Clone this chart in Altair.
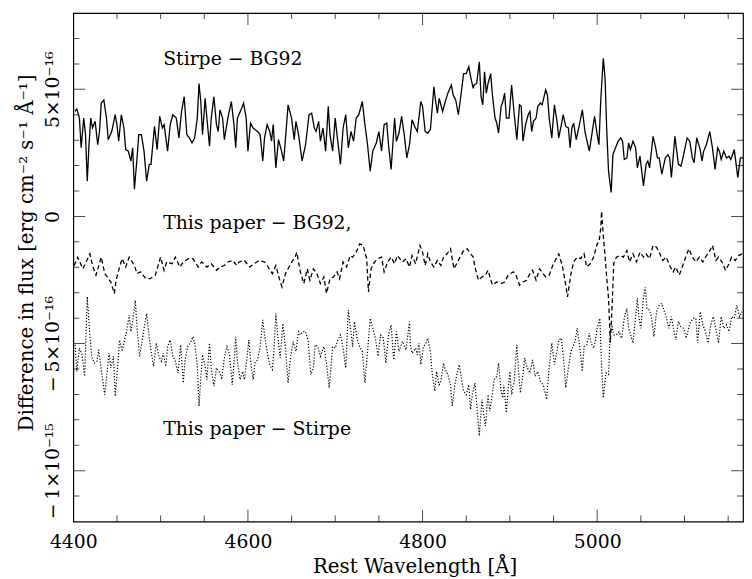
import altair as alt
import pandas as pd

# Wavelength [Å], flux difference in units of 1e-16 erg cm^-2 s^-1 Å^-1
stirpe_bg92 = [
    (4402, 4.13), (4404, 4.23), (4407, 3.87), (4409, 2.70), (4412, 3.87), (4414, 3.22), (4416, 1.39), (4418, 2.82),
    (4420, 3.87), (4422, 3.48), (4425, 3.74), (4428, 2.82), (4430, 3.34), (4432, 4.46), (4435, 4.58), (4438, 3.87),
    (4440, 3.02), (4444, 3.34), (4448, 4.00), (4450, 3.61), (4452, 2.96), (4455, 4.00), (4458, 3.48), (4460, 2.63),
    (4463, 2.57), (4466, 2.18), (4468, 2.70), (4470, 1.07), (4473, 2.30), (4475, 3.22), (4478, 3.22), (4481, 2.57),
    (4484, 1.39), (4487, 2.05), (4489, 2.05), (4493, 3.54), (4496, 2.63), (4499, 3.94), (4502, 3.48), (4504, 3.61),
    (4508, 2.57), (4511, 3.61), (4514, 4.00), (4518, 3.87), (4521, 3.09), (4524, 4.13), (4527, 4.71), (4530, 3.22),
    (4533, 3.09), (4536, 2.89), (4539, 3.09), (4542, 3.87), (4544, 5.23), (4546, 4.52), (4548, 3.22), (4551, 4.65),
    (4553, 3.87), (4556, 2.76), (4558, 3.87), (4561, 4.71), (4564, 3.61), (4566, 3.34), (4568, 4.19), (4571, 3.87),
    (4573, 3.02), (4577, 3.87), (4581, 4.52), (4584, 3.61), (4586, 2.70), (4588, 3.87), (4592, 4.19), (4595, 4.46),
    (4598, 3.87), (4600, 2.57), (4603, 3.67), (4606, 3.48), (4608, 3.42), (4611, 3.34), (4614, 3.22), (4617, 2.18),
    (4619, 3.09), (4622, 3.61), (4625, 3.34), (4627, 2.96), (4629, 3.61), (4632, 1.91), (4635, 3.02), (4638, 2.64),
    (4641, 2.18), (4646, 4.39), (4650, 3.87), (4653, 3.02), (4655, 3.74), (4658, 3.22), (4662, 2.18), (4666, 2.82),
    (4670, 4.00), (4673, 4.06), (4676, 3.48), (4678, 3.34), (4681, 3.74), (4683, 2.96), (4686, 3.48), (4689, 2.57),
    (4692, 4.33), (4694, 3.22), (4697, 2.57), (4700, 3.87), (4702, 3.22), (4706, 2.05), (4709, 3.48), (4712, 4.00),
    (4715, 2.70), (4718, 3.34), (4721, 2.96), (4724, 3.87), (4727, 4.00), (4731, 4.52), (4734, 3.61), (4737, 2.82),
    (4740, 1.78), (4743, 2.57), (4747, 2.89), (4750, 3.34), (4753, 2.57), (4756, 3.61), (4759, 3.67), (4761, 2.82),
    (4764, 1.85), (4768, 3.87), (4770, 2.96), (4773, 3.28), (4776, 3.94), (4779, 3.22), (4782, 2.30), (4785, 2.82),
    (4788, 3.80), (4791, 3.54), (4794, 3.34), (4798, 4.52), (4800, 4.33), (4803, 3.34), (4806, 3.28), (4809, 3.42),
    (4813, 5.10), (4815, 4.52), (4817, 4.06), (4819, 4.65), (4823, 4.13), (4826, 4.52), (4829, 4.85), (4833, 5.17),
    (4835, 4.78), (4838, 4.58), (4841, 4.00), (4844, 4.78), (4847, 5.62), (4850, 5.62), (4853, 5.89), (4855, 5.50),
    (4858, 5.04), (4859, 5.17), (4862, 5.23), (4865, 6.08), (4867, 4.71), (4869, 4.39), (4871, 5.69), (4873, 4.85),
    (4875, 5.23), (4878, 5.62), (4880, 4.78), (4883, 3.87), (4885, 3.67), (4887, 3.28), (4890, 4.33), (4892, 4.52),
    (4894, 4.85), (4896, 3.87), (4899, 3.87), (4902, 5.17), (4905, 4.00), (4908, 3.02), (4911, 4.39), (4913, 4.33),
    (4915, 2.96), (4918, 3.61), (4921, 4.00), (4923, 4.13), (4925, 3.34), (4927, 3.74), (4930, 3.87), (4932, 4.33),
    (4935, 4.46), (4937, 4.39), (4941, 4.98), (4943, 4.78), (4945, 3.87), (4948, 3.09), (4951, 4.39), (4954, 3.74),
    (4956, 3.09), (4959, 3.61), (4961, 4.00), (4964, 3.54), (4967, 3.48), (4969, 2.70), (4971, 3.48), (4973, 3.67),
    (4976, 3.02), (4980, 3.67), (4983, 4.19), (4986, 3.34), (4988, 3.02), (4991, 2.57), (4995, 3.48), (4997, 3.94),
    (5000, 3.22), (5002, 2.82), (5004, 4.52), (5007, 6.22), (5009, 5.43), (5011, 3.34), (5013, 1.78), (5016, 0.94),
    (5018, 2.43), (5021, 2.70), (5024, 2.96), (5027, 3.09), (5029, 2.96), (5031, 2.24), (5034, 2.30), (5036, 2.89),
    (5038, 2.63), (5041, 2.96), (5044, 2.70), (5046, 1.91), (5049, 2.37), (5053, 1.20), (5056, 2.05), (5058, 2.18),
    (5060, 1.91), (5064, 3.15), (5067, 2.70), (5069, 2.30), (5071, 2.30), (5074, 1.66), (5078, 2.30), (5081, 2.43),
    (5083, 2.30), (5085, 1.53), (5089, 3.15), (5093, 2.05), (5096, 1.98), (5099, 2.43), (5103, 3.09), (5106, 2.96),
    (5109, 2.30), (5111, 2.11), (5114, 3.09), (5118, 2.63), (5120, 2.18), (5122, 2.57), (5125, 2.82), (5129, 3.34),
    (5132, 2.70), (5135, 1.85), (5138, 2.70), (5140, 2.57), (5142, 2.24), (5145, 2.57), (5148, 2.30), (5151, 2.37),
    (5153, 2.24), (5155, 2.43), (5157, 2.63), (5161, 1.53), (5164, 2.30), (5167, 2.30),
]

thispaper_bg92 = [
    (4401, -1.93), (4405, -1.60), (4411, -2.06), (4419, -1.47), (4422, -1.93), (4426, -2.31), (4432, -1.60), (4436, -2.25),
    (4439, -2.38), (4443, -2.58), (4447, -3.03), (4449, -2.51), (4453, -1.99), (4456, -1.66), (4460, -1.99), (4464, -1.60),
    (4470, -1.93), (4473, -2.25), (4477, -2.18), (4483, -2.45), (4488, -2.45), (4494, -2.31), (4500, -1.60), (4504, -2.12),
    (4507, -1.79), (4513, -1.86), (4517, -1.60), (4522, -1.99), (4526, -1.79), (4532, -1.66), (4537, -1.66), (4543, -1.99),
    (4547, -1.79), (4553, -1.99), (4558, -1.86), (4564, -2.12), (4568, -1.99), (4573, -1.93), (4577, -1.79), (4583, -1.73),
    (4587, -1.93), (4590, -1.79), (4596, -1.73), (4602, -1.99), (4607, -1.86), (4613, -1.73), (4619, -1.79), (4622, -1.93),
    (4628, -2.25), (4632, -1.93), (4636, -2.45), (4639, -2.77), (4643, -2.25), (4649, -1.86), (4654, -1.60), (4656, -1.41),
    (4660, -2.18), (4664, -2.64), (4668, -2.06), (4671, -2.51), (4675, -2.06), (4679, -2.25), (4683, -2.64), (4687, -2.38),
    (4690, -3.03), (4694, -2.45), (4698, -2.38), (4702, -2.18), (4705, -2.45), (4709, -1.79), (4713, -1.99), (4717, -1.54),
    (4720, -1.60), (4724, -1.41), (4728, -1.08), (4732, -1.14), (4736, -1.66), (4738, -2.97), (4741, -2.06), (4745, -1.79),
    (4749, -1.66), (4753, -1.60), (4756, -2.18), (4760, -1.79), (4764, -1.60), (4768, -1.86), (4771, -1.54), (4777, -1.79),
    (4781, -1.66), (4785, -1.99), (4788, -1.54), (4792, -1.86), (4797, -1.14), (4800, -1.41), (4803, -1.93), (4806, -1.47),
    (4809, -1.79), (4813, -1.99), (4817, -1.73), (4821, -1.93), (4824, -1.60), (4828, -1.47), (4832, -1.27), (4836, -2.06),
    (4839, -1.86), (4843, -1.60), (4847, -1.34), (4851, -1.27), (4855, -1.47), (4858, -1.60), (4860, -1.99), (4864, -2.51),
    (4868, -2.38), (4872, -2.31), (4875, -2.12), (4880, -2.70), (4885, -2.58), (4890, -2.64), (4894, -2.58), (4898, -2.31),
    (4904, -2.18), (4907, -2.31), (4911, -2.70), (4915, -2.58), (4919, -2.51), (4922, -2.31), (4926, -2.12), (4930, -2.51),
    (4934, -2.06), (4938, -2.25), (4941, -2.38), (4945, -2.31), (4949, -1.93), (4953, -1.66), (4956, -1.47), (4960, -1.93),
    (4962, -2.31), (4964, -2.70), (4966, -3.16), (4968, -2.70), (4970, -2.25), (4973, -1.79), (4977, -1.60), (4981, -1.66),
    (4985, -1.47), (4988, -1.99), (4992, -1.86), (4996, -1.60), (5000, -1.08), (5002, -1.02), (5004, -0.50), (5005, 0.20),
    (5007, -0.75), (5009, -1.54), (5011, -2.45), (5013, -3.22), (5015, -4.97), (5017, -3.60), (5019, -1.84), (5022, -1.60),
    (5026, -1.54), (5030, -1.60), (5034, -1.34), (5037, -1.79), (5041, -1.47), (5045, -1.79), (5049, -1.41), (5053, -1.60),
    (5056, -1.47), (5060, -1.66), (5064, -1.14), (5068, -1.21), (5071, -1.41), (5075, -1.73), (5079, -1.60), (5083, -1.93),
    (5087, -2.18), (5090, -1.99), (5094, -2.31), (5098, -1.93), (5102, -1.54), (5105, -1.27), (5109, -1.60), (5113, -1.79),
    (5117, -1.60), (5121, -1.79), (5124, -1.60), (5128, -1.41), (5132, -1.14), (5136, -1.73), (5139, -1.60), (5143, -1.79),
    (5147, -2.12), (5151, -1.86), (5154, -1.60), (5158, -1.73), (5162, -1.54), (5166, -1.47),
]

thispaper_stirpe = [
    (4402, -5.05), (4404, -6.10), (4407, -5.18), (4410, -5.44), (4413, -6.29), (4416, -3.16), (4419, -4.66), (4421, -5.50),
    (4424, -5.77), (4427, -5.70), (4429, -5.25), (4432, -6.02), (4436, -7.01), (4438, -6.35), (4441, -5.38), (4443, -5.96),
    (4446, -5.50), (4448, -7.07), (4451, -5.83), (4453, -4.86), (4456, -5.31), (4458, -4.98), (4461, -4.53), (4464, -3.88),
    (4466, -4.53), (4468, -4.14), (4471, -3.30), (4473, -4.40), (4476, -5.50), (4479, -4.86), (4482, -4.21), (4484, -3.82),
    (4487, -4.79), (4490, -5.50), (4492, -5.90), (4495, -4.98), (4498, -5.50), (4501, -5.70), (4503, -5.38), (4506, -5.90),
    (4508, -5.12), (4511, -4.86), (4514, -5.50), (4517, -5.70), (4520, -6.16), (4523, -5.05), (4526, -6.55), (4528, -5.64),
    (4531, -5.12), (4534, -4.98), (4537, -4.73), (4539, -4.98), (4542, -5.83), (4544, -7.46), (4546, -6.35), (4548, -5.44),
    (4551, -5.90), (4553, -6.42), (4556, -4.98), (4558, -5.96), (4561, -6.68), (4564, -5.96), (4567, -6.10), (4570, -6.35),
    (4573, -5.57), (4576, -5.12), (4579, -5.44), (4582, -6.62), (4585, -5.31), (4586, -4.73), (4588, -5.70), (4591, -6.42),
    (4594, -6.10), (4596, -6.42), (4599, -5.57), (4601, -4.86), (4604, -5.96), (4606, -6.42), (4608, -5.77), (4611, -5.64),
    (4614, -5.12), (4617, -4.07), (4619, -4.66), (4622, -5.31), (4625, -5.83), (4628, -6.02), (4630, -5.18), (4632, -3.82),
    (4634, -4.66), (4637, -5.57), (4640, -4.21), (4643, -5.18), (4646, -6.55), (4649, -5.50), (4652, -4.92), (4655, -5.31),
    (4658, -4.53), (4660, -4.66), (4663, -4.53), (4666, -4.53), (4669, -4.92), (4672, -6.22), (4675, -5.96), (4677, -5.05),
    (4680, -5.12), (4683, -5.50), (4687, -5.12), (4690, -5.77), (4693, -6.74), (4695, -5.96), (4697, -5.12), (4700, -5.18),
    (4703, -4.86), (4706, -4.66), (4709, -5.18), (4712, -5.96), (4715, -3.69), (4717, -4.27), (4720, -5.12), (4722, -4.14),
    (4725, -4.79), (4728, -5.12), (4731, -5.31), (4734, -6.55), (4737, -5.31), (4740, -4.01), (4743, -4.40), (4746, -4.79),
    (4749, -5.50), (4752, -4.66), (4755, -4.79), (4758, -5.77), (4761, -4.66), (4764, -4.27), (4767, -5.64), (4770, -4.53),
    (4773, -5.31), (4777, -4.92), (4781, -5.25), (4785, -4.14), (4786, -5.05), (4788, -5.38), (4792, -5.18), (4794, -5.44),
    (4796, -4.98), (4798, -5.83), (4801, -5.12), (4803, -5.05), (4806, -4.79), (4809, -5.31), (4811, -6.16), (4814, -6.87),
    (4816, -6.10), (4819, -6.62), (4821, -6.48), (4824, -5.77), (4826, -6.02), (4829, -6.22), (4832, -6.62), (4834, -7.46),
    (4837, -6.62), (4840, -6.10), (4842, -5.83), (4845, -6.48), (4847, -6.87), (4850, -7.01), (4853, -6.62), (4855, -7.59),
    (4857, -7.01), (4860, -6.55), (4862, -7.39), (4865, -8.63), (4868, -7.20), (4870, -7.78), (4872, -8.24), (4875, -7.01),
    (4877, -7.66), (4879, -7.20), (4882, -6.42), (4885, -6.29), (4887, -5.77), (4890, -6.87), (4892, -7.14), (4893, -6.62),
    (4896, -7.72), (4898, -6.81), (4900, -6.10), (4902, -7.01), (4905, -6.48), (4908, -5.05), (4910, -6.10), (4912, -6.94),
    (4915, -6.22), (4917, -5.57), (4920, -5.96), (4923, -6.16), (4926, -5.64), (4929, -6.29), (4932, -6.10), (4935, -6.48),
    (4938, -6.62), (4942, -7.20), (4945, -5.96), (4948, -4.98), (4951, -5.83), (4954, -5.31), (4956, -4.86), (4959, -4.79),
    (4962, -5.83), (4964, -6.74), (4967, -5.96), (4970, -5.31), (4973, -5.05), (4975, -4.86), (4977, -4.40), (4980, -5.12),
    (4983, -6.10), (4985, -5.12), (4988, -5.05), (4991, -4.59), (4993, -4.98), (4996, -5.18), (4998, -4.86), (5000, -4.40),
    (5003, -4.01), (5005, -5.83), (5007, -7.14), (5010, -6.16), (5013, -6.22), (5015, -4.53), (5017, -4.34), (5019, -4.66),
    (5022, -4.66), (5025, -4.53), (5028, -4.79), (5031, -4.01), (5034, -3.62), (5036, -4.40), (5039, -4.73), (5041, -4.98),
    (5044, -3.94), (5046, -3.22), (5048, -4.01), (5050, -4.40), (5053, -3.22), (5055, -2.78), (5057, -3.62), (5060, -3.69),
    (5062, -3.94), (5065, -4.73), (5068, -3.75), (5071, -3.49), (5074, -3.42), (5077, -3.75), (5079, -3.94), (5082, -4.40),
    (5085, -3.94), (5087, -4.34), (5090, -4.86), (5093, -4.14), (5096, -4.34), (5099, -4.40), (5102, -4.79), (5106, -4.21),
    (5110, -4.01), (5113, -4.01), (5115, -4.98), (5118, -3.75), (5121, -4.27), (5124, -4.53), (5127, -4.98), (5130, -4.27),
    (5133, -3.94), (5136, -4.46), (5139, -4.98), (5142, -3.94), (5145, -4.40), (5148, -4.27), (5151, -4.53), (5154, -3.94),
    (5157, -4.01), (5160, -3.49), (5163, -3.94), (5166, -3.75),
]

x_major = [4400, 4600, 4800, 5000]
x_minor = [4450, 4500, 4550, 4650, 4700, 4750, 4850, 4900, 4950, 5050, 5100, 5150]
y_major = [-10, -5, 0, 5]
y_major_labels = ["\u2212\u20091\u00d710\u207b\u00b9\u2075", "\u2212\u20095\u00d710\u207b\u00b9\u2076", "0",
                  "5\u00d710\u207b\u00b9\u2076"]
y_minor = [-11, -9, -8, -7, -6, -4, -3, -2, -1, 1, 2, 3, 4, 6, 7]

label_texts = ["Stirpe  \u2212  BG92", "This paper  \u2212  BG92,", "This paper  \u2212  Stirpe"]
label_x = [4503, 4503, 4503]
label_y = [6.2, -0.25, -8.37]

X_DOMAIN = [4400, 5167]
Y_DOMAIN = [-12, 8]

FONT = "DejaVu Serif"
W, H = 677, 514
MAJOR_LEN, MINOR_LEN = 12, 6

df_solid = pd.DataFrame(stirpe_bg92, columns=["wl", "flux"])
df_dash = pd.DataFrame(thispaper_bg92, columns=["wl", "flux"])
df_dot = pd.DataFrame(thispaper_stirpe, columns=["wl", "flux"])

xs = alt.Scale(domain=X_DOMAIN, nice=False, zero=False)
ys = alt.Scale(domain=Y_DOMAIN, nice=False, zero=False)

label_expr = " : ".join(
    f"datum.value == {v} ? '{t}'" for v, t in zip(y_major, y_major_labels)
) + " : ''"

x_axis = alt.Axis(
    values=x_major, format="d", ticks=False, tickSize=0, domain=False, grid=False,
    labelFlush=False, labelOverlap=False, labelFont=FONT, labelFontSize=19, labelColor="black",
    labelPadding=11, title="Rest Wavelength [\u00c5]", titleFont=FONT, titleFontSize=20,
    titleFontWeight="normal", titleColor="black", titlePadding=6, titleX=345,
)
y_axis = alt.Axis(
    values=y_major, labelExpr=label_expr, labelAngle=270, labelAlign="center", labelBaseline="middle",
    labelPadding=21, ticks=False, tickSize=0, domain=False, grid=False, labelFlush=False,
    labelOverlap=False, labelFont=FONT, labelFontSize=19, labelColor="black",
    title="Difference in flux [erg cm\u207b\u00b2 s\u207b\u00b9 \u00c5\u207b\u00b9]",
    titleFont=FONT, titleFontSize=20, titleFontWeight="normal", titleColor="black",
    titleAngle=270, titleX=-47, titleY=242, titleAlign="center", titleBaseline="middle",
)

base_x = alt.X("wl:Q", scale=xs, axis=x_axis)
base_y = alt.Y("flux:Q", scale=ys, axis=y_axis)

solid = alt.Chart(df_solid).mark_line(color="black", strokeWidth=1.3).encode(x=base_x, y=base_y)
dashed = alt.Chart(df_dash).mark_line(color="black", strokeWidth=1.3, strokeDash=[4.5, 3]).encode(
    x=alt.X("wl:Q", scale=xs), y=alt.Y("flux:Q", scale=ys))
dotted = alt.Chart(df_dot).mark_line(color="black", strokeWidth=1.2, strokeDash=[1.2, 1.8]).encode(
    x=alt.X("wl:Q", scale=xs), y=alt.Y("flux:Q", scale=ys))

# inward tick marks on all four sides
xt_rows = []
for v in x_major + x_minor:
    ln = MAJOR_LEN if v in x_major else MINOR_LEN
    for edge in Y_DOMAIN:
        xt_rows.append({"wl": v, "flux": edge, "len": 2 * ln})
yt_rows = []
for v in y_major + y_minor:
    ln = MAJOR_LEN if v in y_major else MINOR_LEN
    for edge in X_DOMAIN:
        yt_rows.append({"wl": edge, "flux": v, "len": 2 * ln})

xticks = alt.Chart(pd.DataFrame(xt_rows)).mark_tick(
    orient="vertical", color="black", thickness=1, clip=True
).encode(x=alt.X("wl:Q", scale=xs), y=alt.Y("flux:Q", scale=ys), size=alt.Size("len:Q", scale=None))
yticks = alt.Chart(pd.DataFrame(yt_rows)).mark_tick(
    orient="horizontal", color="black", thickness=1, clip=True
).encode(x=alt.X("wl:Q", scale=xs), y=alt.Y("flux:Q", scale=ys), size=alt.Size("len:Q", scale=None))

labels = alt.Chart(pd.DataFrame({"wl": label_x, "flux": label_y, "text": label_texts})).mark_text(
    align="left", baseline="middle", font=FONT, fontSize=19, color="black"
).encode(x=alt.X("wl:Q", scale=xs), y=alt.Y("flux:Q", scale=ys), text="text:N")

chart = alt.layer(solid, dashed, dotted, xticks, yticks, labels).properties(
    width=W, height=H,
    autosize=alt.AutoSizeParams(type="none"),
    padding={"left": 66, "top": 2, "right": 1, "bottom": 56},
    background="white",
).configure_view(stroke="black", strokeWidth=1.2)

chart.save("out.html", embed_options={"renderer": "svg", "actions": False})
